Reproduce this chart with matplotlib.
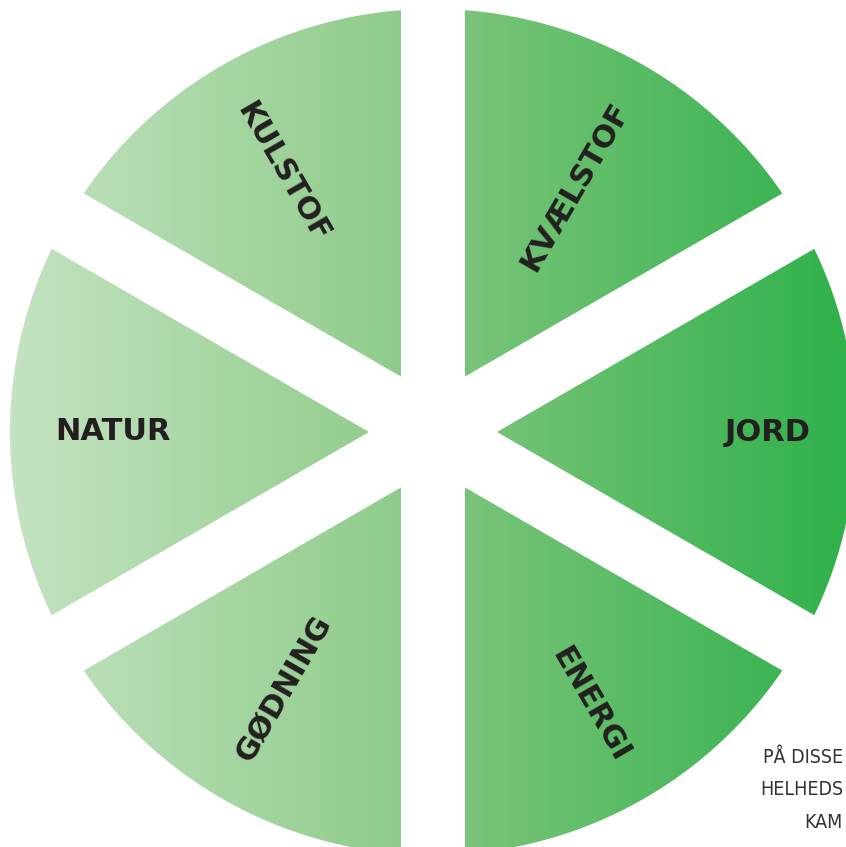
import numpy as np
import matplotlib
matplotlib.use("Agg")
import matplotlib.pyplot as plt
from matplotlib.patches import Polygon
from matplotlib.colors import LinearSegmentedColormap
from matplotlib import font_manager

# ---- data ----
categories = ["JORD", "KVÆLSTOF", "KULSTOF", "NATUR", "GØDNING", "ENERGI"]
values = [1, 1, 1, 1, 1, 1]
note_lines = ["PÅ DISSE", "HELHEDS", "KAM"]

# ---- layout (pixel units, centre of circle at origin, y up) ----
W, H = 846, 847
cx, cy = 433, 432
R = 423
gap = 64
label_r = 378
start_angle = -30

fig = plt.figure(figsize=(W / 100, H / 100), dpi=100)
ax = fig.add_axes([0, 0, 1, 1])
ax.set_xlim(-cx, W - cx)
ax.set_ylim(-(H - cy), cy)
ax.set_aspect("equal")
ax.axis("off")

cmap = LinearSegmentedColormap.from_list(
    "g",
    [(0.0, "#c4e3c1"), (0.46, "#8fcc8b"), (0.54, "#7ac479"), (1.0, "#2eb14a")],
)
grad = np.linspace(0, 1, 512).reshape(1, -1)

total = sum(values)
a0 = start_angle
half = gap / 2
delta = np.degrees(np.arcsin(half / R))
for cat, v in zip(categories, values):
    span = 360 * v / total
    a1 = a0 + span
    mid = np.radians((a0 + a1) / 2)
    tip_d = half / np.sin(np.radians(span / 2))
    tip = (tip_d * np.cos(mid), tip_d * np.sin(mid))
    th = np.radians(np.linspace(a0 + delta, a1 - delta, 200))
    pts = [tip] + list(zip(R * np.cos(th), R * np.sin(th)))
    poly = Polygon(pts, closed=True, facecolor="none", edgecolor="none")
    ax.add_patch(poly)
    im = ax.imshow(grad, cmap=cmap, extent=(-R, R, -R, R), aspect="auto",
                   interpolation="bilinear", zorder=1)
    im.set_clip_path(poly)

    # label
    ang = (a0 + a1) / 2
    ar = np.radians(ang)
    x, y = label_r * np.cos(ar), label_r * np.sin(ar)
    if np.cos(ar) > 1e-9:
        ha = "right"
        rot = ang if ang <= 90 else ang - 360
    else:
        ha = "left"
        rot = ang - 180
    ax.text(x, y, cat, ha=ha, va="center", rotation=rot, rotation_mode="anchor",
            fontsize=22, fontweight="bold", color="#231f20",
            family=["DejaVu Sans"], zorder=3)
    a0 = a1

# pick a narrow font file if one is installed
narrow_file = None
for f in font_manager.fontManager.ttflist:
    fn = f.fname.lower()
    if ("condensed" in fn or "narrow" in fn) and "bold" not in fn \
            and "oblique" not in fn and "italic" not in fn:
        narrow_file = f.fname
        break

note_size = 14
note_x = [775, 779, 813]
note_base = [763, 795, 828]
texts = []
for t, nx, nb in zip(note_lines, note_x, note_base):
    kw = dict(ha="left", va="baseline", color="#333333", zorder=3)
    if narrow_file:
        kw["fontproperties"] = font_manager.FontProperties(fname=narrow_file,
                                                           size=note_size)
    else:
        kw["fontsize"] = note_size
        kw["family"] = ["Roboto", "DejaVu Sans"]
    tx = ax.text(nx - cx, cy - nb, t, **kw)
    texts.append((tx, nx))

# keep each line inside the picture (reference crops them at the edge)
fig.canvas.draw()
renderer = fig.canvas.get_renderer()
for tx, nx in texts:
    bb = tx.get_window_extent(renderer)
    left = min(nx, W - 3 - bb.width)
    tx.set_x(left - cx)

fig.savefig("out.png", dpi=100)
